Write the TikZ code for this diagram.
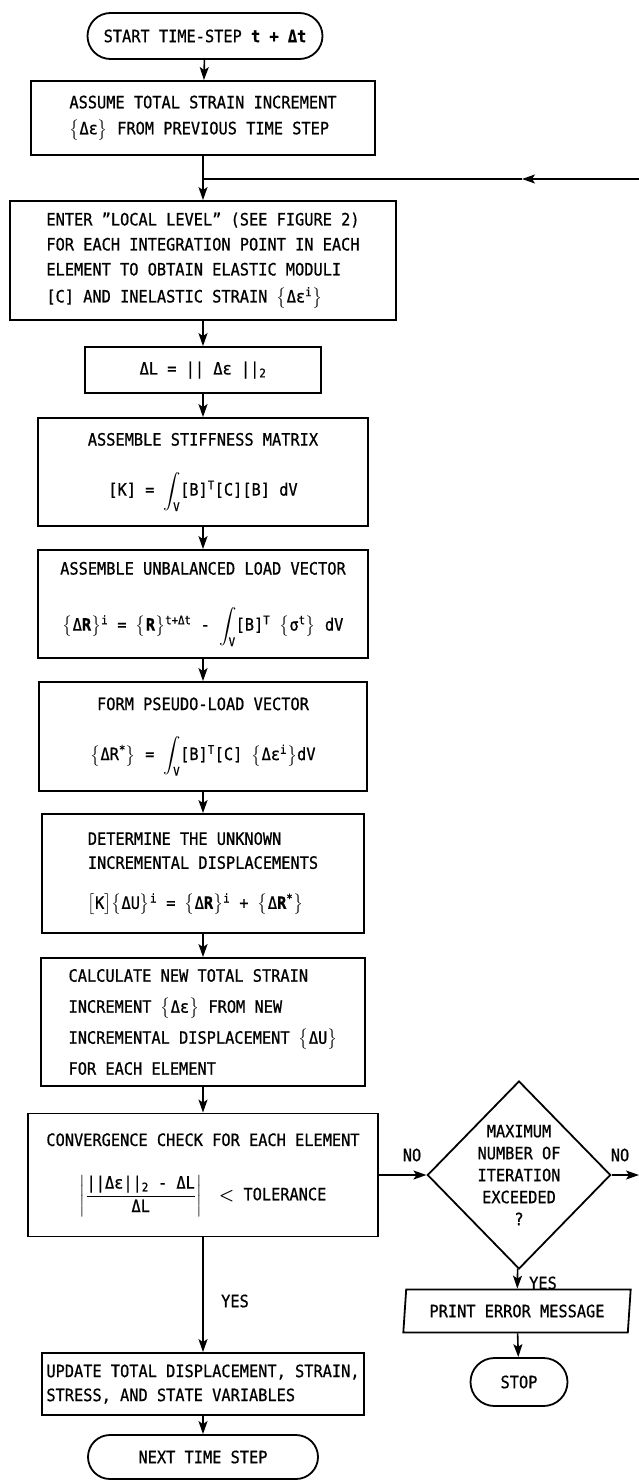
\documentclass[tikz,border=0pt]{standalone}
\usepackage{amsmath}
\usepackage{fontspec}
\setmainfont[FakeStretch=0.9, FakeBold=0.8]{DejaVu Sans Mono}
\usepackage{tikz}
\usetikzlibrary{arrows,arrows.meta,shapes,positioning,calc}
\newcommand{\suptx}[1]{$^{\text{#1}}$}
\newcommand{\subtx}[1]{$_{\text{#1}}$}
\newcommand{\intV}{$\displaystyle\int_{\text{V}}$}
\newcommand{\brc}[1]{$\bigl\{\text{#1}\bigr\}$}

\begin{document}
\begin{tikzpicture}[x=1pt, y=-1pt,
    font=\fontsize{17}{24}\selectfont,
    box/.style={draw, line width=1.8pt, inner sep=0pt},
    term/.style={draw, line width=1.8pt, rounded rectangle, inner sep=0pt},
    flow/.style={-{Stealth[length=13pt, width=9pt, inset=3pt]}, line width=1.6pt}]
    \useasboundingbox (0,0) rectangle (639,1480);
    \node[term, minimum width=235pt, minimum height=46pt] (start) at (205,36) {START TIME-STEP \textbf{t + Δt}};
    \node[box, align=left, minimum width=344pt, minimum height=74pt, font=\fontsize{17}{26}\selectfont] (assume) at (203,118) {ASSUME TOTAL STRAIN INCREMENT\\\brc{Δε} FROM PREVIOUS TIME STEP};
    \node[box, align=left, minimum width=386pt, minimum height=119pt, font=\fontsize{17}{25}\selectfont] (enter) at (203,260.5) {ENTER "LOCAL LEVEL" (SEE FIGURE 2)\\FOR EACH INTEGRATION POINT IN EACH\\ELEMENT TO OBTAIN ELASTIC MODULI\\[2pt] {}[C] AND INELASTIC STRAIN \brc{Δε\suptx{i}}};
    \node[box, minimum width=236pt, minimum height=46pt] (dl) at (203,370) {ΔL = || Δε ||\subtx{2}};
    \node[box, align=center, minimum width=330pt, minimum height=108pt] (stiff) at (203,472) {ASSEMBLE STIFFNESS MATRIX\\[26pt] [K] = \intV [B]\suptx{T}[C][B] dV};
    \node[box, align=center, minimum width=330pt, minimum height=108pt] (unbal) at (203,604) {ASSEMBLE UNBALANCED LOAD VECTOR\\[32pt] \brc{Δ\textbf{R}}\suptx{i} = \brc{\textbf{R}}\suptx{t+Δt} - \intV [B]\suptx{T} \brc{σ\suptx{t}} dV};
    \node[box, align=center, minimum width=328pt, minimum height=109pt] (pseudo) at (203,736.5) {FORM PSEUDO-LOAD VECTOR\\[26pt] \brc{ΔR\suptx{*}} = \intV [B]\suptx{T}[C] \brc{Δε\suptx{i}}dV};
    \node[box, align=left, minimum width=322pt, minimum height=119pt] (solve) at (203,873.5) {DETERMINE THE UNKNOWN\\INCREMENTAL DISPLACEMENTS\\[16pt] $\bigl[\text{K}\bigr]$\brc{ΔU}\suptx{i} = \brc{Δ\textbf{R}}\suptx{i} + \brc{Δ\textbf{R}\suptx{*}}};
    \node[box, align=left, minimum width=324pt, minimum height=128pt, font=\fontsize{17}{31}\selectfont] (strain) at (203,1022) {CALCULATE NEW TOTAL STRAIN\\INCREMENT \brc{Δε} FROM NEW\\INCREMENTAL DISPLACEMENT \brc{ΔU}\\FOR EACH ELEMENT};
    \node[box, align=center, minimum width=350pt, minimum height=123pt] (conv) at (203,1175) {CONVERGENCE CHECK FOR EACH ELEMENT\\[28pt] $\left|\dfrac{\text{||Δε||\subtx{2} - ΔL}}{\text{ΔL}}\right|$\quad $\boldsymbol{<}$ TOLERANCE};
    \node[box, align=left, minimum width=322pt, minimum height=62pt] (update) at (203,1384) {UPDATE TOTAL DISPLACEMENT, STRAIN,\\STRESS, AND STATE VARIABLES};
    \node[term, minimum width=230pt, minimum height=44pt] (next) at (203,1457) {NEXT TIME STEP};
    \node[draw, diamond, line width=1.8pt, inner sep=0pt, minimum width=182pt, minimum height=188pt, align=center, font=\fontsize{17}{22}\selectfont] (maxit) at (519,1175) {MAXIMUM\\NUMBER OF\\ITERATION\\EXCEEDED\\?};
    \node[draw, trapezium, trapezium stretches=true, trapezium left angle=80, trapezium right angle=100, line width=1.8pt, inner sep=0pt, minimum width=228pt, minimum height=43pt] (errmsg) at (517,1311) {PRINT ERROR MESSAGE};
    \node[term, minimum width=97pt, minimum height=48pt] (stop) at (519,1382) {STOP};
    \coordinate (fbin) at (639,179);
    \coordinate (fbtip) at (522,179);
    \coordinate (fbjoin) at (203,179);
    \coordinate (noexit) at (639,1175);
    \draw[flow] (start) -- (assume);
    \draw[flow] (assume) -- (enter);
    \draw[flow] (fbin) -- (fbtip);
    \draw[line width=1.6pt] (fbtip) -- (fbjoin);
    \draw[flow] (enter) -- (dl);
    \draw[flow] (dl) -- (stiff);
    \draw[flow] (stiff) -- (unbal);
    \draw[flow] (unbal) -- (pseudo);
    \draw[flow] (pseudo) -- (solve);
    \draw[flow] (solve) -- (strain);
    \draw[flow] (strain) -- (conv);
    \draw[flow] (conv) -- (update);
    \draw[flow] (update) -- (next);
    \draw[flow] (conv) -- (maxit);
    \draw[flow] (maxit) -- (noexit);
    \draw[flow] (maxit) -- (errmsg);
    \draw[flow] (errmsg) -- (stop);
    \node (yesconv) at (235,1301) {YES};
    \node (noconv) at (412,1155) {NO};
    \node (nomax) at (620,1155) {NO};
    \node (yesmax) at (543,1283) {YES};
\end{tikzpicture}
\end{document}
